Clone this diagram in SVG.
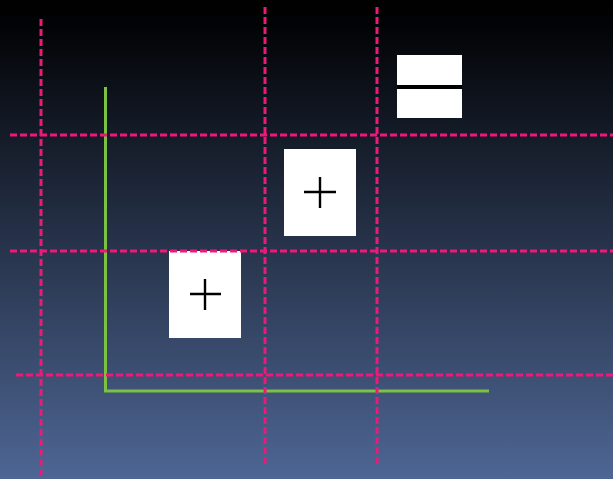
<svg xmlns="http://www.w3.org/2000/svg" width="613" height="479" viewBox="0 0 613 479">
<defs>
<linearGradient id="bg" x1="0" y1="0" x2="0" y2="1">
<stop offset="0" stop-color="#000000"/>
<stop offset="0.05" stop-color="#020305"/>
<stop offset="1" stop-color="#4e6694"/>
</linearGradient>
</defs>
<style>
.dash{stroke:#ec1978;stroke-width:3;stroke-dasharray:7 3;fill:none}
.green{stroke:#7cc242;stroke-width:3;fill:none}
.box{fill:#ffffff}
.plus{stroke:#000000;stroke-width:2.4;fill:none}
</style>
<rect x="0" y="0" width="613" height="479" fill="url(#bg)"/>
<g id="green-axis">
<path class="green" d="M105.5 87 V391 H489"/>
</g>
<g id="node-equals">
<rect class="box" x="397" y="55" width="65" height="63"/>
<line x1="397" y1="87" x2="462" y2="87" stroke="#000" stroke-width="4"/>
</g>
<g id="node-plus-1">
<rect class="box" x="284" y="149" width="72" height="87"/>
<path class="plus" d="M304 192 H336 M320 177 V208"/>
</g>
<g id="node-plus-2">
<rect class="box" x="169" y="251" width="72" height="87"/>
<path class="plus" d="M190 294 H221 M205 279 V310"/>
</g>
<g id="connectors">
<line class="dash" x1="10" y1="135" x2="613" y2="135"/>
<line class="dash" x1="10" y1="251" x2="613" y2="251"/>
<line class="dash" x1="16" y1="375" x2="613" y2="375"/>
<line class="dash" x1="41" y1="19" x2="41" y2="479"/>
<line class="dash" x1="265" y1="7" x2="265" y2="467"/>
<line class="dash" x1="377" y1="7" x2="377" y2="467"/>
</g>
</svg>
